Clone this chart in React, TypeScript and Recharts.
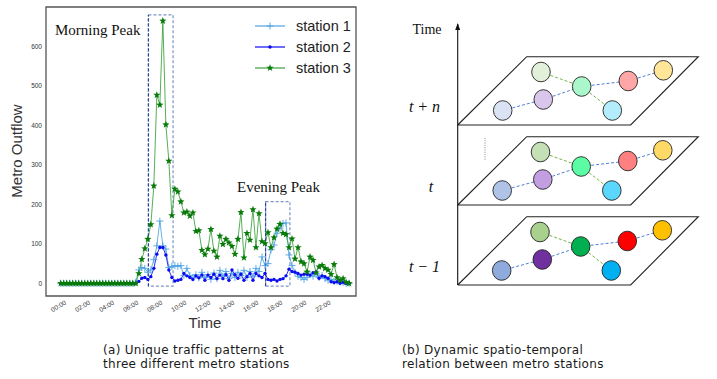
import React from "react";
import { LineChart, Line, XAxis, YAxis, ReferenceArea, ReferenceLine, ScatterChart, Scatter } from "recharts";

// 15-minute slots, 00:00 .. 24:00
const timeTicks = [0, 8, 16, 24, 32, 40, 48, 56, 64, 72, 80, 88];
const timeLabels = ["00:00", "02:00", "04:00", "06:00", "08:00", "10:00", "12:00", "14:00", "16:00", "18:00", "20:00", "22:00"];
const outflowTicks = [0, 100, 200, 300, 400, 500, 600];

const zeros = (n: number) => Array.from({ length: n }, () => 0);

const station1 = [
  ...zeros(25),
  3, 34, 40, 38, 28, 34, 60, 95, 158, 95, 87, 40, 43, 45, 43, 45, 20, 38, 20, 14,
  22, 14, 28, 15, 22, 10, 26, 12, 33, 18, 30, 12, 25, 15, 28, 20, 33, 15, 30, 18,
  38, 30, 67, 45, 50, 85, 97, 127, 140, 152, 153, 72, 45, 28, 18, 15, 10, 15, 22, 18,
  25, 15, 20, 12, 8, 10, 5, 5, 3, 2, 0, 0,
];
const station2 = [
  ...zeros(26),
  5, 13, 15, 10, 17, 38, 74, 91, 91, 72, 34, 15, 6, 8, 10, 25, 19, 15, 10, 19,
  14, 21, 8, 21, 15, 23, 12, 21, 12, 22, 8, 34, 22, 13, 23, 8, 17, 25, 8, 25,
  19, 15, 25, 10, 8, 10, 6, 10, 12, 19, 36, 30, 28, 25, 21, 23, 23, 21, 27, 29,
  13, 19, 17, 13, 4, 2, 4, 0, 3, 0, 0,
];
const station3 = [
  ...zeros(26),
  25, 61, 88, 112, 149, 247, 477, 452, 665, 402, 310, 172, 239, 232, 207, 179, 181, 171, 179, 132,
  134, 84, 73, 87, 137, 82, 67, 120, 99, 112, 103, 94, 74, 112, 180, 65, 127, 110, 187, 91,
  177, 106, 101, 129, 91, 116, 138, 150, 127, 124, 91, 113, 62, 91, 55, 50, 29, 67, 59, 27,
  42, 46, 38, 34, 23, 48, 15, 8, 12, 3, 0,
];
const stationNames = ["station 1", "station 2", "station 3"];
const stationColors = ["#4ea3e4", "#0a0af0", "#1f8f1f"];

const rows = station3.map((v, i) => ({ i, s1: station1[i], s2: station2[i], s3: v }));

const peakBoxes = [
  { name: "Morning Peak", x1: 29.2, x2: 37.4, y1: -7, y2: 680 },
  { name: "Evening Peak", x1: 68.2, x2: 76.3, y1: -7, y2: 207 },
];

const captionA = ["(a) Unique traffic patterns at", "three different metro stations"];
const captionB = ["(b) Dynamic spatio-temporal", "relation between metro stations"];

// diagram: three time slices, same station graph on each
const sliceLabels = ["t + n", "t", "t \u2212 1"];
const sliceBase = [125, 205, 285];
const stationNodes = ["lightgreen", "purple", "gray", "mint", "cyan", "red", "yellow"];
const nodeX = [161, 163.3, 122.7, 201.7, 232.3, 248.3, 283.3];
const nodeRise = [53, 25.5, 14.5, 38.5, 14.5, 44, 54.7];
const nodeFill = [
  ["#e2efd9", "#dac6ea", "#dae3f3", "#aaf7cb", "#b3ecfb", "#ffa7a7", "#ffe699"],
  ["#c5e0b4", "#c39fe1", "#afc3e6", "#5cfca5", "#5bd6fd", "#ff8080", "#ffd966"],
  ["#a9d18e", "#7030a0", "#8faadc", "#00b050", "#00b0f0", "#ff0000", "#ffc000"],
];
const stationEdges: [number, number, string][] = [
  [2, 1, "#4f7fd8"], [1, 3, "#4f7fd8"], [3, 5, "#4f7fd8"], [5, 6, "#4f7fd8"],
  [0, 3, "#76b345"], [3, 4, "#76b345"],
];

const PlusMark = ({ cx, cy }: any) => (
  <g stroke={stationColors[0]} strokeWidth={0.9}>
    <line x1={cx - 3.5} x2={cx + 3.5} y1={cy} y2={cy} />
    <line x1={cx} x2={cx} y1={cy - 3.5} y2={cy + 3.5} />
  </g>
);
const DotMark = ({ cx, cy }: any) => <circle cx={cx} cy={cy} r={1.7} fill={stationColors[1]} />;
const StarMark = ({ cx, cy }: any) => {
  const pts: string[] = [];
  for (let k = 0; k < 10; k++) {
    const r = k % 2 === 0 ? 3.8 : 1.6;
    const a = -Math.PI / 2 + (k * Math.PI) / 5;
    pts.push(`${cx + r * Math.cos(a)},${cy + r * Math.sin(a)}`);
  }
  return <polygon points={pts.join(" ")} fill="#087a08" />;
};

const TimeTick = ({ x, y, payload }: any) => {
  const label = timeLabels[timeTicks.indexOf(payload.value)] ?? "";
  const ax = x + 6;
  const ay = y + 8;
  return (
    <text x={ax} y={ay} transform={`rotate(-30, ${ax}, ${ay})`} textAnchor="end" fontSize={6.5} fill="#333" fontFamily="Liberation Sans">
      {label}
    </text>
  );
};

function TrafficChart() {
  return (
    <LineChart width={370} height={340} data={rows} margin={{ top: 7, right: 14, bottom: 0, left: 0 }}>
      <XAxis dataKey="i" type="number" domain={[-4.9, 98.3]} allowDataOverflow ticks={timeTicks} tick={<TimeTick />} axisLine={false} tickLine={false} tickSize={0} tickMargin={0} height={44} interval={0} />
      <YAxis type="number" domain={[-32, 700]} allowDataOverflow ticks={outflowTicks} axisLine={false} tickLine={false} tickSize={4} tickMargin={0} width={46}
        tick={{ fontSize: 6.5, fill: "#333", fontFamily: "Liberation Sans" }} />
      <ReferenceArea x1={-4.9} x2={98.3} y1={-32} y2={700} fill="none" stroke="#555" strokeWidth={1.3} ifOverflow="visible" />
      <Line dataKey="s1" stroke={stationColors[0]} strokeWidth={1} strokeOpacity={0.85} isAnimationActive={false}
        dot={(p: any) => <PlusMark key={`p1-${p.index}`} cx={p.cx} cy={p.cy} />} />
      <Line dataKey="s2" stroke={stationColors[1]} strokeWidth={1} strokeOpacity={0.85} isAnimationActive={false}
        dot={(p: any) => <DotMark key={`p2-${p.index}`} cx={p.cx} cy={p.cy} />} />
      <Line dataKey="s3" stroke="#3aa03a" strokeWidth={1} strokeOpacity={0.85} isAnimationActive={false}
        dot={(p: any) => <StarMark key={`p3-${p.index}`} cx={p.cx} cy={p.cy} />} />
      {peakBoxes.map((b) => (
        <ReferenceArea key={b.name} x1={b.x1} x2={b.x2} y1={b.y1} y2={b.y2} fill="none" stroke="#7f93c6" strokeWidth={1.2} strokeDasharray="3 2" ifOverflow="visible" />
      ))}
      {peakBoxes.map((b) => (
        <ReferenceLine key={`l-${b.name}`} segment={[{ x: b.x1, y: b.y1 }, { x: b.x1, y: b.y2 }]} stroke="#27459a" strokeWidth={1.2} strokeDasharray="3 2" ifOverflow="visible" />
      ))}
    </LineChart>
  );
}

function RelationDiagram() {
  const axisX = 77.7;
  return (
    <ScatterChart width={337} height={300} margin={{ top: 0, right: 0, bottom: 0, left: 0 }}>
      <XAxis type="number" dataKey="x" domain={[0, 337]} hide />
      <YAxis type="number" dataKey="y" domain={[0, 300]} reversed hide />
      {sliceBase.map((base, s) => (
        <Scatter key={`plane-${s}`} isAnimationActive={false}
          data={[
            { x: axisX, y: base }, { x: axisX + 173, y: base }, { x: axisX + 240.6, y: base - 68.3 },
            { x: axisX + 69, y: base - 68.3 }, { x: axisX, y: base },
          ]}
          line={{ stroke: "#222", strokeWidth: 1.1 }} shape={() => <g />} />
      ))}
      <Scatter isAnimationActive={false}
        data={[{ x: axisX, y: 285, head: false }, { x: axisX, y: 24, head: true }]}
        line={{ stroke: "#111", strokeWidth: 1.1 }}
        shape={(p: any) => p.payload.head ? <polygon points={`${p.cx},${p.cy - 1} ${p.cx - 2.5},${p.cy + 6} ${p.cx + 2.5},${p.cy + 6}`} fill="#111" /> : <g />} />
      {sliceBase.map((base, s) =>
        stationEdges.map(([a, b, c], e) => (
          <Scatter key={`edge-${s}-${e}`} isAnimationActive={false}
            data={[{ x: nodeX[a] - s * 0.5, y: base - nodeRise[a] }, { x: nodeX[b] - s * 0.5, y: base - nodeRise[b] }]}
            line={{ stroke: c, strokeWidth: 1, strokeDasharray: "3 2" }} shape={() => <g />} />
        ))
      )}
      {sliceBase.map((base, s) => (
        <Scatter key={`nodes-${s}`} isAnimationActive={false}
          data={stationNodes.map((n, k) => ({ x: nodeX[k] - s * 0.5, y: base - nodeRise[k], fill: nodeFill[s][k], n }))}
          shape={(p: any) => <ellipse cx={p.cx} cy={p.cy} rx={9.3} ry={9.8} fill={p.payload.fill} stroke="#222" strokeWidth={0.9} />} />
      ))}
    </ScatterChart>
  );
}

export default function App() {
  const serif = "Liberation Serif";
  const sans = "Liberation Sans";
  const capStyle = { fontFamily: "DejaVu Sans", fontSize: 12, letterSpacing: 0.3, fill: "#1a1a1a" };
  return (
    <div style={{ position: "absolute", left: 0, top: 0, width: 717, height: 379, background: "#fff", overflow: "hidden" }}>
      <div style={{ position: "absolute", left: 0, top: 0 }}>
        <TrafficChart />
      </div>
      <div style={{ position: "absolute", left: 380, top: 0 }}>
        <RelationDiagram />
      </div>
      <svg width={717} height={379} style={{ position: "absolute", left: 0, top: 0, pointerEvents: "none" }}>
        <text x={55} y={35} fontFamily={serif} fontSize={15} fill="#111">{peakBoxes[0].name}</text>
        <text x={237} y={192} fontFamily={serif} fontSize={15} fill="#111">{peakBoxes[1].name}</text>
        <text x={205} y={328} textAnchor="middle" fontFamily={sans} fontSize={15} fill="#333">Time</text>
        <text x={0} y={0} transform="translate(22,151) rotate(-90)" textAnchor="middle" fontFamily={sans} fontSize={15} fill="#333">Metro Outflow</text>
        {stationNames.map((name, k) => {
          const y = 26 + k * 21;
          return (
            <g key={name}>
              <line x1={255} x2={285} y1={y} y2={y} stroke={k === 2 ? "#3aa03a" : stationColors[k]} strokeWidth={1.2} />
              {k === 0 && <PlusMark cx={270} cy={y} />}
              {k === 1 && <DotMark cx={270} cy={y} />}
              {k === 2 && <StarMark cx={270} cy={y} />}
              <text x={296} y={y + 5} fontFamily={sans} fontSize={14.5} fill="#222">{name}</text>
            </g>
          );
        })}
        <text x={427} y={34} textAnchor="middle" fontFamily={serif} fontSize={14} fill="#111">Time</text>
        {sliceLabels.map((lab, s) => (
          <text key={lab} x={s === 1 ? 431 : 424.5} y={sliceBase[s] - 13} textAnchor="middle" fontFamily={serif} fontStyle="italic" fontSize={16} fill="#111">{lab}</text>
        ))}
        <line x1={485} x2={485} y1={138} y2={160} stroke="#888" strokeWidth={1} strokeDasharray="1 1.3" />
        {captionA.map((line, k) => (
          <text key={line} x={103} y={354 + k * 14} {...capStyle}>{line}</text>
        ))}
        {captionB.map((line, k) => (
          <text key={line} x={402} y={354 + k * 14} {...capStyle}>{line}</text>
        ))}
      </svg>
    </div>
  );
}
